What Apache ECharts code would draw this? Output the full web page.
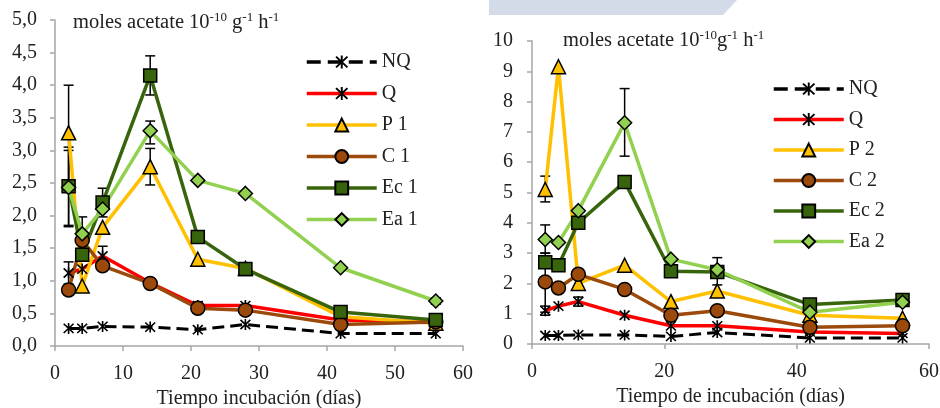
<!DOCTYPE html>
<html><head><meta charset="utf-8">
<script src="https://cdn.jsdelivr.net/npm/echarts@6/dist/echarts.min.js"></script>
<style>html,body{margin:0;padding:0;background:#fff}#c{width:940px;height:408px}</style>
</head><body><div id="c"></div>
<script>
// ---- data ----
const days = [2, 4, 7, 14, 21, 28, 42, 56];
const leftNames = ['NQ', 'Q', 'P 1', 'C 1', 'Ec 1', 'Ea 1'];
const rightNames = ['NQ', 'Q', 'P 2', 'C 2', 'Ec 2', 'Ea 2'];
const nqL = [0.27, 0.27, 0.30, 0.29, 0.25, 0.33, 0.19, 0.19];
const qL  = [1.12, 1.18, 1.38, 0.97, 0.62, 0.62, 0.40, 0.37];
const p1  = [3.27, 0.92, 1.82, 2.75, 1.33, 1.19, 0.45, 0.35];
const c1  = [0.86, 1.62, 1.23, 0.96, 0.58, 0.55, 0.33, 0.37];
const ec1 = [2.45, 1.40, 2.20, 4.15, 1.67, 1.18, 0.52, 0.40];
const ea1 = [2.43, 1.72, 2.10, 3.30, 2.54, 2.34, 1.20, 0.69];
const nqR = [0.28, 0.28, 0.30, 0.30, 0.25, 0.38, 0.20, 0.20];
const qR  = [1.10, 1.25, 1.40, 0.95, 0.60, 0.60, 0.40, 0.35];
const p2  = [5.10, 9.15, 2.00, 2.60, 1.40, 1.75, 0.95, 0.85];
const c2  = [2.05, 1.85, 2.30, 1.80, 0.95, 1.10, 0.55, 0.60];
const ec2 = [2.70, 2.60, 4.00, 5.35, 2.40, 2.38, 1.30, 1.45];
const ea2 = [3.45, 3.35, 4.40, 7.30, 2.80, 2.45, 1.05, 1.38];
// error bars: [day, low, high]
const errLeft = [
  [2, 2.54, 4.00], [2, 1.83, 3.05], [2, 1.85, 3.00], [2, 0.95, 1.29],
  [4, 1.46, 1.98], [7, 1.98, 2.42], [7, 1.22, 1.53],
  [14, 3.85, 4.45], [14, 3.10, 3.45], [14, 2.47, 3.03],
  [28, 1.13, 1.23], [56, 0.64, 0.74]
];
const errRight = [
  [2, 4.69, 5.54], [2, 3.00, 3.93], [2, 1.05, 3.00], [2, 0.95, 1.25],
  [7, 1.25, 1.55], [14, 6.20, 8.43], [28, 1.95, 2.85]
];
const yTicksLeft = { min: 0, max: 5, interval: 0.5 };
const yTicksRight = { min: 0, max: 10, interval: 1 };

// ---- styles ----
const FONT = '"Liberation Serif","Times New Roman",serif';
const STAR = 'path://M4.3,0H5.7V10H4.3Z M0.3,1.3L1.3,0.3L9.7,8.7L8.7,9.7Z M8.7,0.3L9.7,1.3L1.3,9.7L0.3,8.7Z';
const styles = [
  { color: '#000000', fill: '#000000', symbol: STAR, size: 11, dash: 'dashed', border: 0, width: 3 },
  { color: '#ff0000', fill: '#000000', symbol: STAR, size: 11, dash: 'solid', border: 0, width: 3.5 },
  { color: '#ffc000', fill: '#ffc000', symbol: 'triangle', size: 14, dash: 'solid', border: 1.5, width: 3.5 },
  { color: '#9c4a0c', fill: '#9c4a0c', symbol: 'circle', size: 14, dash: 'solid', border: 1.5, width: 3.5 },
  { color: '#38650c', fill: '#38650c', symbol: 'rect', size: 13, dash: 'solid', border: 1.5, width: 3.5 },
  { color: '#92d050', fill: '#92d050', symbol: 'diamond', size: 14, dash: 'solid', border: 1.5, width: 3.5 }
];

function mkSeries(name, values, st, idx) {
  return {
    type: 'line', name: name, xAxisIndex: idx, yAxisIndex: idx, z: 3,
    data: days.map((d, i) => [d, values[i]]),
    symbol: st.symbol, symbolSize: st.size, showAllSymbol: true,
    lineStyle: { color: st.color, width: st.width, type: st.dash },
    itemStyle: { color: st.fill, borderColor: '#000', borderWidth: st.border },
    emphasis: { disabled: true }, animation: false
  };
}
function renderErr(params, api) {
  const x = api.value(0), lo = api.value(1), hi = api.value(2);
  const a = api.coord([x, hi]), b = api.coord([x, lo]);
  const w = 5, s = { stroke: '#000', lineWidth: 1.5 };
  return { type: 'group', children: [
    { type: 'line', shape: { x1: a[0], y1: a[1], x2: b[0], y2: b[1] }, style: s },
    { type: 'line', shape: { x1: a[0] - w, y1: a[1], x2: a[0] + w, y2: a[1] }, style: s },
    { type: 'line', shape: { x1: b[0] - w, y1: b[1], x2: b[0] + w, y2: b[1] }, style: s }
  ]};
}
function errSeries(data, idx) {
  return { type: 'custom', xAxisIndex: idx, yAxisIndex: idx, z: 2, data: data,
    renderItem: renderErr, encode: { x: 0, y: [1, 2] }, silent: true, animation: false };
}
const axisLineStyle = { lineStyle: { color: '#a6a6a6', width: 1.5 } };
function xAx(idx, interval, name, gap) {
  return { type: 'value', gridIndex: idx, min: 0, max: 60, interval: interval,
    axisLine: { show: true, ...axisLineStyle }, axisTick: { show: true, length: 5, ...axisLineStyle },
    splitLine: { show: false },
    axisLabel: { fontFamily: FONT, fontSize: 20, color: '#222', margin: 18 },
    name: name, nameLocation: 'middle', nameGap: gap,
    nameTextStyle: { fontFamily: FONT, fontSize: 20, color: '#222' } };
}
function yAx(idx, t, fmt, margin) {
  return { type: 'value', gridIndex: idx, min: t.min, max: t.max, interval: t.interval,
    axisLine: { show: true, ...axisLineStyle }, axisTick: { show: true, length: 5, ...axisLineStyle },
    splitLine: { show: false },
    axisLabel: { fontFamily: FONT, fontSize: 20, color: '#222', margin: margin, formatter: fmt } };
}
const rich = {
  a: { fontFamily: FONT, fontSize: 20.5, color: '#222', fontWeight: 'normal' },
  s: { fontFamily: FONT, fontSize: 13, color: '#222', fontWeight: 'normal', padding: [0, 0, 10, 0] }
};
const series = [];
leftNames.forEach((n, i) => series.push(mkSeries(n, [nqL, qL, p1, c1, ec1, ea1][i], styles[i], 0)));
rightNames.forEach((n, i) => series.push(mkSeries(n, [nqR, qR, p2, c2, ec2, ea2][i], styles[i], 1)));
series.push(errSeries(errLeft, 0));
series.push(errSeries(errRight, 1));

const legendText = { fontFamily: FONT, fontSize: 20, color: '#222' };
const chart = echarts.init(document.getElementById('c'));
chart.setOption({
  animation: false,
  backgroundColor: '#fff',
  grid: [
    { left: 55, top: 20, width: 408, height: 326, containLabel: false, outerBoundsMode: 'none' },
    { left: 532, top: 41, width: 397, height: 303, containLabel: false, outerBoundsMode: 'none' }
  ],
  xAxis: [xAx(0, 10, 'Tiempo incubación (días)', 41), xAx(1, 20, 'Tiempo de incubación (días)', 43)],
  yAxis: [yAx(0, yTicksLeft, v => v.toFixed(1).replace('.', ','), 18), yAx(1, yTicksRight, v => String(v), 19)],
  title: [
    { text: '{a|moles acetate 10}{s|-10}{a| g}{s|-1}{a| h}{s|-1}', left: 73, top: 11, padding: 0,
      textStyle: { rich: rich } },
    { text: '{a|moles acetate 10}{s|-10}{a|g}{s|-1}{a| h}{s|-1}', left: 563, top: 29, padding: 0,
      textStyle: { rich: rich } }
  ],
  legend: [
    { data: leftNames, orient: 'vertical', left: 305, top: 52, padding: 0, itemWidth: 70, itemHeight: 16, itemGap: 11.5,
      selectedMode: false, lineStyle: { width: 3.5 }, textStyle: legendText },
    { data: rightNames, orient: 'vertical', left: 772, top: 79, padding: 0, itemWidth: 70, itemHeight: 16, itemGap: 10.5,
      selectedMode: false, lineStyle: { width: 3.5 }, textStyle: legendText }
  ],
  graphic: [
    { type: 'polygon', silent: true, z: -1,
      shape: { points: [[489, 0], [737, 0], [723, 15], [489, 15]] },
      style: { fill: '#d3dae8' } }
  ],
  series: series
});
</script></body></html>
